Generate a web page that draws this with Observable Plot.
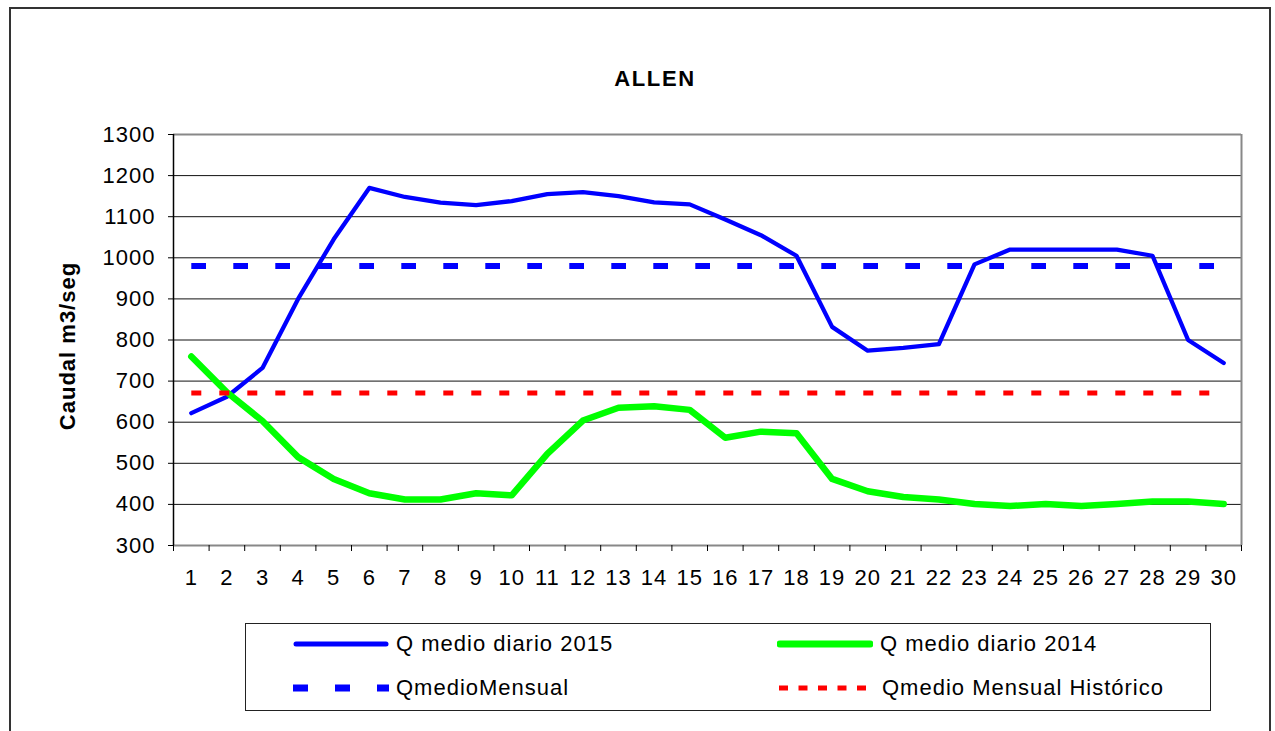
<!DOCTYPE html>
<html>
<head>
<meta charset="utf-8">
<script src="https://cdn.jsdelivr.net/npm/d3@7"></script>
<script src="https://cdn.jsdelivr.net/npm/@observablehq/plot@0.6"></script>
<style>
  html, body { margin: 0; padding: 0; overflow: hidden; background: #fff; width: 1275px; height: 731px; }
  body { position: relative; font-family: "Liberation Sans", Arial, sans-serif; }
  #frame { position: absolute; left: 9px; top: 7px; width: 1262px; height: 760px; border: 2px solid #333; box-sizing: border-box; }
  #title { position: absolute; left: 0; width: 1310px; top: 68px; text-align: center; font-weight: bold; font-size: 22px; line-height: 22px; letter-spacing: 1.6px; color: #000; }
  #ylabel { position: absolute; left: 68px; top: 346px; transform: translate(-50%, -50%) rotate(-90deg); font-weight: bold; font-size: 22px; letter-spacing: 1px; white-space: nowrap; color: #000; }
  #chart { position: absolute; left: 0; top: 0; }
  #legend { position: absolute; left: 245px; top: 623px; width: 966px; height: 88px; border: 1.5px solid #222; box-sizing: border-box; }
  .item { position: absolute; height: 24px; display: flex; align-items: center; font-size: 22px; letter-spacing: 1px; color: #000; white-space: nowrap; }
  .item svg { margin-right: 7px; }
</style>
</head>
<body>
<div id="frame"></div>
<div id="chart"></div>
<div id="title">ALLEN</div>
<div id="ylabel">Caudal m3/seg</div>
<div id="legend"></div>
<script>
// ---- data ----
const days = [1,2,3,4,5,6,7,8,9,10,11,12,13,14,15,16,17,18,19,20,21,22,23,24,25,26,27,28,29,30];
const q2015 = [622,662,732,900,1045,1170,1148,1134,1128,1138,1155,1160,1150,1135,1130,1093,1055,1005,832,774,781,790,984,1020,1020,1020,1020,1005,800,744];
const q2014 = [760,673,603,515,462,427,412,412,427,422,523,604,635,639,630,562,577,573,462,432,418,412,401,396,401,396,401,407,407,401];
const qMensual = [980,980,980,980,980,980,980,980,980,980,980,980,980,980,980,980,980,980,980,980,980,980,980,980,980,980,980,980,980,980];
const qHistorico = [671,671,671,671,671,671,671,671,671,671,671,671,671,671,671,671,671,671,671,671,671,671,671,671,671,671,671,671,671,671];
const yTicks = [300,400,500,600,700,800,900,1000,1100,1200,1300];
const gridValues = [400,500,600,700,800,900,1000,1100,1200];
const seriesNames = ["Q medio diario 2015", "Q medio diario 2014", "QmedioMensual", "Qmedio Mensual Histórico"];

const rows = days.map((d, i) => ({day: d, q2015: q2015[i], q2014: q2014[i], mensual: qMensual[i], historico: qHistorico[i]}));
const bounds = [0, ...days].map(d => d + 0.5);

const chart = Plot.plot({
  width: 1275,
  height: 600,
  marginLeft: 173,
  marginRight: 34,
  marginTop: 134,
  marginBottom: 55,
  style: {background: "transparent", fontFamily: "'Liberation Sans', Arial, sans-serif", fontSize: "22px", color: "#000", letterSpacing: "1px"},
  x: {type: "linear", domain: [0.5, 30.5]},
  y: {type: "linear", domain: [300, 1300]},
  marks: [
    Plot.ruleY(gridValues, {stroke: "#111", strokeWidth: 1}),
    Plot.ruleY([1300, 300], {stroke: "#888", strokeWidth: 2}),
    Plot.ruleX([30.5], {stroke: "#888", strokeWidth: 2}),
    Plot.axisY({ticks: yTicks, tickSize: 5, tickPadding: 13, stroke: "#000", strokeOpacity: 1, label: null, tickFormat: d => String(d)}),
    Plot.axisX({ticks: bounds, tickSize: 6, tickFormat: () => "", stroke: "#000", strokeOpacity: 1, label: null}),
    Plot.axisX({ticks: days, tickSize: 0, tickPadding: 24, label: null, tickFormat: d => String(d)}),
    Plot.ruleX([0.5], {stroke: "#000", strokeWidth: 1.5}),
    Plot.line(rows, {x: "day", y: "q2015", stroke: "#0000ff", strokeWidth: 4.3}),
    Plot.line(rows, {x: "day", y: "q2014", stroke: "#00ff00", strokeWidth: 6.5}),
    Plot.line(rows, {x: "day", y: "mensual", stroke: "#0000ff", strokeWidth: 6, strokeDasharray: "14.7,27.3", strokeLinecap: "butt"}),
    Plot.line(rows, {x: "day", y: "historico", stroke: "#ff0000", strokeWidth: 5, strokeDasharray: "10,18", strokeLinecap: "butt"})
  ]
});
document.getElementById("chart").appendChild(chart);

// ---- legend ----
const legend = document.getElementById("legend");
const swatches = [
  {name: seriesNames[0], color: "#0000ff", width: 5, dash: null, cap: "round", left: 47, top: 8},
  {name: seriesNames[1], color: "#00ff00", width: 7, dash: null, cap: "round", left: 531, top: 8},
  {name: seriesNames[2], color: "#0000ff", width: 7, dash: "15,27", cap: "butt", left: 47, top: 52},
  {name: seriesNames[3], color: "#ff0000", width: 5, dash: "9,10.5", cap: "butt", left: 533, top: 52}
];
swatches.forEach(s => {
  const el = document.createElement("div");
  el.className = "item";
  el.style.left = s.left + "px";
  el.style.top = s.top + "px";
  const w = 96;
  el.innerHTML = `<svg width="${w}" height="12"><line x1="${s.cap === 'round' ? 3 : 0}" x2="${s.cap === 'round' ? w - 3 : w}" y1="6" y2="6" stroke="${s.color}" stroke-width="${s.width}" stroke-linecap="${s.cap}" ${s.dash ? `stroke-dasharray="${s.dash}"` : ""}/></svg><span>${s.name}</span>`;
  legend.appendChild(el);
});
</script>
</body>
</html>
